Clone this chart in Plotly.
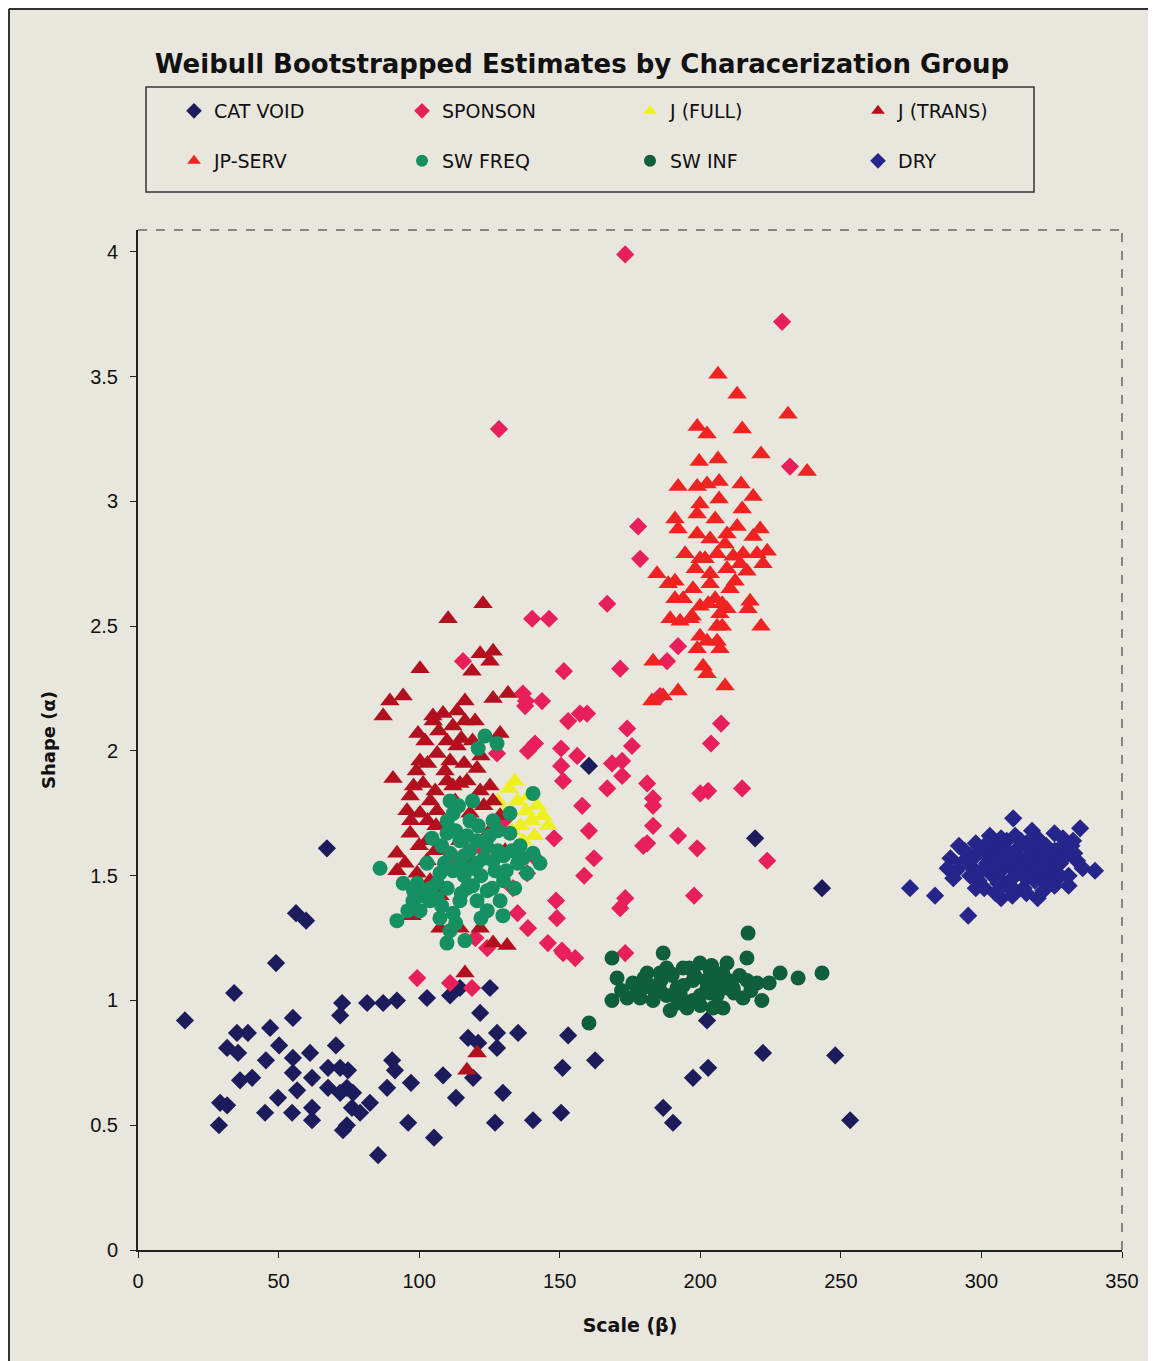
import plotly.graph_objects as go

# ---------------- data (Scale beta, Shape alpha) ----------------
cat_void_x = [16.7, 34.2, 49.1, 56.2, 59.8, 67.2, 35.2, 39.1, 47.0, 55.1, 31.7, 35.6, 50.2, 45.5,
              55.1, 61.2, 70.4, 36.3, 40.6, 55.1, 61.9, 67.6, 71.9, 74.7, 90.4, 91.4, 56.6, 49.8,
              67.6, 74.3, 76.5, 88.6, 97.1, 108.5, 29.2, 31.7, 45.2, 54.8, 61.9, 61.9, 71.9, 76.1,
              79.0, 82.5, 28.8, 74.3, 72.9, 96.1, 105.3, 85.4, 113.1, 129.8, 127.0, 140.5, 121.7,
              117.4, 121.0, 127.7, 127.7, 135.2, 119.2, 72.6, 71.9, 81.5, 87.2, 92.1, 102.8, 111.0,
              114.5, 125.2, 150.5, 151.0, 153.0, 162.6, 160.4, 186.8, 190.3, 197.4, 202.8, 202.4,
              219.5, 222.3, 243.3, 248.0, 253.3]
cat_void_y = [0.92, 1.03, 1.15, 1.35, 1.32, 1.61, 0.87, 0.87, 0.89, 0.93, 0.81, 0.79, 0.82, 0.76,
              0.77, 0.79, 0.82, 0.68, 0.69, 0.71, 0.69, 0.73, 0.73, 0.72, 0.76, 0.72, 0.64, 0.61,
              0.65, 0.65, 0.63, 0.65, 0.67, 0.70, 0.59, 0.58, 0.55, 0.55, 0.57, 0.52, 0.63, 0.57,
              0.55, 0.59, 0.50, 0.50, 0.48, 0.51, 0.45, 0.38, 0.61, 0.63, 0.51, 0.52, 0.95,
              0.85, 0.83, 0.87, 0.81, 0.87, 0.69, 0.99, 0.94, 0.99, 0.99, 1.00, 1.01, 1.02,
              1.05, 1.05, 0.55, 0.73, 0.86, 0.76, 1.94, 0.57, 0.51, 0.69, 0.73, 0.92,
              1.65, 0.79, 1.45, 0.78, 0.52]

sponson_x = [173.3, 229.1, 128.4, 231.9, 177.9, 178.6, 166.9, 140.2, 146.2, 171.5, 151.5, 115.6,
             138.0, 143.7, 136.9, 153.0, 159.7, 157.2, 174.0, 175.7, 141.2, 138.7, 150.5, 156.2,
             150.5, 151.2, 168.6, 172.2, 172.2, 166.9, 181.1, 183.2, 183.2, 200.0, 202.8, 214.9,
             207.4, 203.8, 158.0, 160.4, 148.0, 183.2, 181.1, 179.7, 192.1, 198.9, 223.8, 162.2,
             158.7, 173.3, 171.5, 197.8, 148.7, 149.0, 138.7, 145.8, 150.8, 173.3, 151.2, 155.5,
             99.3, 111.0, 118.8, 124.2, 127.7, 133.4, 138.4, 188.2, 192.1, 185.7, 137.7, 140.5,
             130.0, 123.0, 120.0, 112.0, 135.0]
sponson_y = [3.99, 3.72, 3.29, 3.14, 2.90, 2.77, 2.59, 2.53, 2.53, 2.33, 2.32, 2.36,
             2.20, 2.20, 2.23, 2.12, 2.15, 2.15, 2.09, 2.02, 2.03, 2.00, 2.01, 1.98,
             1.94, 1.88, 1.95, 1.96, 1.90, 1.85, 1.87, 1.81, 1.78, 1.83, 1.84, 1.85,
             2.11, 2.03, 1.78, 1.68, 1.65, 1.70, 1.63, 1.62, 1.66, 1.61, 1.56, 1.57,
             1.50, 1.41, 1.37, 1.42, 1.40, 1.33, 1.29, 1.23, 1.20, 1.19, 1.19, 1.17,
             1.09, 1.07, 1.05, 1.21, 1.99, 1.45, 1.51, 2.36, 2.42, 2.22, 2.18, 1.58,
             1.72, 1.60, 1.25, 1.58, 1.35]

j_full_x = [132, 135, 138, 140, 142, 136, 130, 133, 144, 139, 128, 137, 141, 134, 146]
j_full_y = [1.85, 1.80, 1.76, 1.72, 1.78, 1.70, 1.75, 1.68, 1.74, 1.82, 1.80, 1.64, 1.66, 1.88, 1.70]

j_trans_x = [122.7, 110.3, 100.3, 118.8, 121.7, 126.3, 125.2, 89.6, 94.3, 87.2, 116.3, 126.3,
             131.6, 104.9, 108.5, 113.5, 99.6, 102.1, 116.3, 119.9, 128.8, 109.9, 113.5, 100.3,
             106.4, 111.0, 120.6, 90.7, 101.4, 114.5, 117.0, 96.8, 125.2, 121.7, 126.3, 95.7,
             100.3, 106.4, 118.1, 96.8, 102.8, 92.1, 102.8, 92.1, 99.3, 97.5, 107.4, 114.5,
             121.7, 126.3, 131.3, 116.3, 120.6, 117.0, 109.2, 105.7, 112.8, 109.2, 114.5, 103.9,
             111.0, 107.4, 118.1, 125.2, 128.8, 130.6, 100.3, 105.7,
             103, 107, 112, 115, 104, 98, 110, 116, 119, 122, 97, 100, 95, 106, 103, 112, 123, 99, 105]
j_trans_y = [2.59, 2.53, 2.33, 2.32, 2.39, 2.40, 2.36, 2.20, 2.22, 2.14, 2.20, 2.21,
             2.23, 2.14, 2.15, 2.16, 2.07, 2.04, 2.12, 2.12, 2.07, 2.04, 2.02, 1.96,
             1.99, 1.96, 1.93, 1.89, 1.87, 1.87, 1.88, 1.82, 1.86, 1.84, 1.80, 1.76,
             1.75, 1.76, 1.75, 1.67, 1.64, 1.59, 1.56, 1.52, 1.51, 1.34, 1.29, 1.29,
             1.29, 1.23, 1.22, 1.11, 0.79, 0.72, 1.92, 1.84, 1.80, 1.70, 1.64, 1.48,
             1.52, 1.42, 1.56, 1.68, 1.74, 1.60, 1.42, 1.60,
             1.95, 2.08, 2.10, 2.05, 1.80, 1.86, 1.88, 1.95, 2.04, 1.98, 1.72, 1.62, 1.55, 1.70,
             1.72, 1.86, 1.78, 1.92, 2.12]

jp_serv_x = [206.3, 213.1, 231.2, 198.9, 202.4, 214.9, 221.6, 199.6, 206.3, 238.0, 192.1, 198.9,
             202.4, 206.7, 214.5, 218.8, 199.9, 198.9, 206.7, 214.9, 191.0, 192.1, 198.9, 221.3,
             223.8, 184.6, 191.0, 203.5, 209.5, 213.1, 218.8, 220.2, 194.6, 199.9, 206.0, 211.7,
             215.2, 222.3, 209.5, 216.6, 203.5, 197.4, 203.5, 212.4, 191.0, 193.9, 217.7, 217.0,
             207.8, 209.5, 199.9, 202.8, 189.3, 192.8, 221.6, 197.1, 206.0, 199.9, 202.4, 207.8,
             206.0, 198.9, 207.0, 183.2, 201.0, 202.4, 208.8, 192.1, 186.8, 188.6, 182.8,
             205.3, 208.8, 201.7, 205.3, 198.2, 196.4, 207.0, 210.6, 214.2]
jp_serv_y = [3.51, 3.43, 3.35, 3.30, 3.27, 3.29, 3.19, 3.16, 3.17, 3.12, 3.06, 3.06,
             3.07, 3.08, 3.07, 3.02, 2.99, 2.95, 3.01, 2.97, 2.93, 2.89, 2.87, 2.89,
             2.80, 2.71, 2.68, 2.85, 2.87, 2.90, 2.86, 2.79, 2.79, 2.77, 2.79, 2.78,
             2.79, 2.75, 2.73, 2.72, 2.71, 2.65, 2.67, 2.68, 2.61, 2.61, 2.60, 2.57,
             2.59, 2.57, 2.58, 2.59, 2.53, 2.52, 2.50, 2.54, 2.50, 2.46, 2.44, 2.50,
             2.44, 2.41, 2.41, 2.36, 2.34, 2.31, 2.26, 2.24, 2.22, 2.67, 2.20,
             2.93, 2.83, 2.77, 2.61, 2.73, 2.53, 2.55, 2.65, 2.75]

sw_freq_x = [140.5, 123.4, 127.7, 121.0, 86.1, 111.0, 112.1, 104.6, 94.3, 99.3, 106.4, 97.8,
             103.9, 92.1, 107.4, 112.1, 109.9, 116.3, 129.8, 124.2, 114.5, 120.6, 126.3, 135.9,
             132.3, 132.3, 126.3, 120.6, 117.0, 124.2, 111.0, 109.9, 143.0, 138.4, 140.5, 114.5,
             120.6, 128.8, 118.1, 114.5, 102.8, 107.4, 100.3, 106.4, 130.0, 135.0, 116.0, 122.0,
             128.0, 110.0, 125.0, 130.0, 118.0, 112.0, 101.0,
             108, 113, 117, 121, 124, 127, 131, 133, 119, 115, 108, 104, 98, 96, 111, 113, 122,
             126, 134, 137, 119, 123, 109, 116, 128, 110, 114, 119]
sw_freq_y = [1.83, 2.06, 2.03, 2.01, 1.53, 1.80, 1.75, 1.65, 1.47, 1.47, 1.47, 1.40,
             1.40, 1.32, 1.33, 1.35, 1.23, 1.24, 1.34, 1.36, 1.55, 1.55, 1.56, 1.62,
             1.67, 1.75, 1.72, 1.64, 1.45, 1.44, 1.59, 1.67, 1.55, 1.51, 1.59, 1.40,
             1.40, 1.40, 1.72, 1.64, 1.55, 1.51, 1.36, 1.41, 1.48, 1.55, 1.50, 1.50,
             1.60, 1.45, 1.66, 1.58, 1.60, 1.52, 1.42,
             1.62, 1.68, 1.66, 1.70, 1.62, 1.52, 1.52, 1.60, 1.46, 1.43, 1.38, 1.45, 1.44, 1.36,
             1.28, 1.31, 1.33, 1.45, 1.45, 1.57, 1.53, 1.57, 1.55, 1.58, 1.68, 1.72, 1.78, 1.80]

sw_inf_x = [217.0, 168.6, 186.8, 216.6, 209.5, 243.3, 234.8, 228.4, 170.4, 224.5, 168.6, 174.0,
            221.9, 160.4, 189.3, 195.3, 208.1, 178.6, 183.2, 193.9, 199.9, 203.5, 181.1, 185.7,
            216.6, 211.7, 197.4, 191.7, 179.7, 185.7, 203.5, 197.4, 215.2, 204.5, 177.5, 220.2,
            202.4, 192.8, 209.5, 189.3, 206.0,
            182, 186, 190, 194, 198, 202, 206, 210, 214, 188, 194, 200, 206, 212, 184, 196, 204,
            176, 172, 218, 192, 200, 180, 208, 188]
sw_inf_y = [1.27, 1.17, 1.19, 1.17, 1.15, 1.11, 1.09, 1.11, 1.09, 1.07, 1.00, 1.01,
            1.00, 0.91, 0.96, 0.97, 0.97, 1.01, 1.00, 1.13, 1.15, 1.12, 1.11, 1.11,
            1.08, 1.05, 1.08, 1.05, 1.05, 1.04, 1.03, 1.00, 1.01, 0.97, 1.04, 1.07,
            1.05, 1.03, 1.05, 1.11, 1.09,
            1.06, 1.08, 1.10, 1.06, 1.10, 1.08, 1.06, 1.08, 1.10, 1.02, 1.00, 1.02, 1.02, 1.03,
            1.03, 1.13, 1.14, 1.07, 1.04, 1.04, 0.99, 0.98, 1.09, 1.11, 1.13]

dry_x = [300, 302, 304, 305, 306, 307, 308, 309, 310, 310, 311, 312, 313, 313, 314, 315, 316,
         317, 318, 319, 320, 320, 321, 322, 323, 324, 325, 326, 327, 328, 329, 330, 331, 332,
         296, 297, 298, 299, 293, 294, 291, 289, 301, 303, 305, 312, 318, 322, 326, 334, 336,
         303, 315, 308, 319, 311, 296, 324, 311.3, 335.1, 332.6, 340.4, 274.6, 283.5, 295.3,
         292, 295, 298, 300, 302, 304, 306, 307, 309, 310, 312, 314, 315, 316, 318, 320, 321,
         323, 324, 326, 328, 329, 330, 331, 333, 298, 305, 313, 317, 322, 327, 288, 290, 307,
         316, 320]
dry_y = [1.60, 1.55, 1.50, 1.62, 1.57, 1.52, 1.47, 1.64, 1.59, 1.54, 1.49, 1.66, 1.61, 1.56,
         1.51, 1.45, 1.63, 1.58, 1.53, 1.48, 1.65, 1.60, 1.55, 1.50, 1.62, 1.57, 1.52, 1.46,
         1.60, 1.55, 1.65, 1.58, 1.50, 1.62, 1.58, 1.53, 1.63, 1.48, 1.55, 1.60, 1.52, 1.57,
         1.45, 1.66, 1.43, 1.44, 1.68, 1.44, 1.67, 1.56, 1.53, 1.58, 1.56, 1.59, 1.61, 1.42,
         1.50, 1.48, 1.73, 1.69, 1.64, 1.52, 1.45, 1.42, 1.34,
         1.62, 1.55, 1.45, 1.52, 1.63, 1.57, 1.47, 1.65, 1.55, 1.45, 1.58, 1.64, 1.53, 1.49,
         1.57, 1.52, 1.63, 1.47, 1.55, 1.60, 1.50, 1.57, 1.62, 1.46, 1.59, 1.58, 1.54, 1.52,
         1.61, 1.58, 1.54, 1.53, 1.49, 1.41, 1.43, 1.41]

x_ticks = [0, 50, 100, 150, 200, 250, 300, 350]
y_ticks = [0, 0.5, 1, 1.5, 2, 2.5, 3, 3.5, 4]

# ---------------- figure ----------------
BG = "#e9e6dd"
FONT = "Liberation Sans, Arial, sans-serif"
WIDE = "DejaVu Sans, Liberation Sans, sans-serif"

series = [
    ("CAT VOID", cat_void_x, cat_void_y, "diamond", "#1c1c5c", 14, "legend"),
    ("SPONSON", sponson_x, sponson_y, "diamond", "#e8205a", 14, "legend"),
    ("J (FULL)", j_full_x, j_full_y, "triangle-up", "#eef020", 17, "legend"),
    ("J (TRANS)", j_trans_x, j_trans_y, "triangle-up", "#b3101f", 17, "legend"),
    ("JP-SERV", jp_serv_x, jp_serv_y, "triangle-up", "#f02222", 17, "legend2"),
    ("SW FREQ", sw_freq_x, sw_freq_y, "circle", "#149062", 15, "legend2"),
    ("SW INF", sw_inf_x, sw_inf_y, "circle", "#0f5e3c", 15, "legend2"),
    ("DRY", dry_x, dry_y, "diamond", "#25258c", 14, "legend2"),
]

fig = go.Figure()
for name, xs, ys, sym, col, sz, lg in series:
    fig.add_trace(go.Scatter(
        x=xs, y=ys, mode="markers", name=name, legend=lg,
        marker=dict(symbol=sym, color=col, size=sz, line=dict(width=0)),
    ))

# page body has an 8px margin: figure spans screen 8..1156 / 8..1361
OFF = 8
W, H = 1156 - OFF, 1361 - OFF
L, R, T, B = 138 - OFF, 1122 - OFF, 230 - OFF, 1250 - OFF
pw, ph = R - L, B - T


def px(sx):
    return (sx - OFF - L) / pw


def py(sy):
    return (B - (sy - OFF)) / ph


legend_common = dict(
    orientation="h", xanchor="left", yanchor="middle",
    entrywidth=183, entrywidthmode="pixels",
    font=dict(family=WIDE, size=19, color="#111111"),
    bgcolor="rgba(0,0,0,0)", borderwidth=0, itemsizing="constant",
    traceorder="normal",
)

fig.update_layout(
    width=W, height=H,
    paper_bgcolor=BG, plot_bgcolor=BG,
    margin=dict(l=L, r=W - R, t=T, b=H - B),
    font=dict(family=FONT, color="#111111"),
    title=dict(
        text="<b>Weibull Bootstrapped Estimates by Characerization Group</b>",
        x=(582 - OFF) / W, xanchor="center", y=1 - (64 - OFF) / H, yanchor="middle",
        xref="container", yref="container",
        font=dict(family=WIDE, size=26, color="#111111"),
    ),
    legend=dict(x=px(174), y=py(111), **legend_common),
    legend2=dict(x=px(174), y=py(161), **legend_common),
    xaxis=dict(
        range=[0, 350], tickvals=x_ticks, ticks="outside", ticklen=6,
        tickcolor="#222", showline=True, linecolor="#222", linewidth=2,
        showgrid=False, zeroline=False, mirror=False,
        tickfont=dict(family=FONT, size=20, color="#111"),
        ticklabelstandoff=6,
        title=dict(text="<b>Scale (β)</b>", font=dict(family=WIDE, size=19), standoff=28),
    ),
    yaxis=dict(
        range=[0, 4.088], tickvals=y_ticks, ticks="outside", ticklen=6,
        tickcolor="#222", showline=True, linecolor="#222", linewidth=2,
        showgrid=False, zeroline=False, mirror=False,
        tickfont=dict(family=FONT, size=20, color="#111"),
        ticklabelstandoff=8,
        title=dict(text="<b>Shape (α)</b>", font=dict(family=WIDE, size=18), standoff=30),
    ),
)

shapes = [
    # dashed top and right frame of plot area
    dict(type="line", xref="paper", yref="paper", x0=0, x1=1, y0=1, y1=1,
         line=dict(color="#666", width=1.5, dash="dash")),
    dict(type="line", xref="paper", yref="paper", x0=1, x1=1, y0=0, y1=1,
         line=dict(color="#666", width=1.5, dash="dash")),
    # legend box
    dict(type="rect", xref="paper", yref="paper", x0=px(146), x1=px(1034), y0=py(87), y1=py(192),
         line=dict(color="#333", width=1.5)),
    # outer frame (left and top edges)
    dict(type="line", xref="paper", yref="paper", x0=px(9), x1=px(9), y0=py(9), y1=py(1361),
         line=dict(color="#333", width=2)),
    dict(type="line", xref="paper", yref="paper", x0=px(9), x1=px(1156), y0=py(9), y1=py(9),
         line=dict(color="#333", width=2)),
]
fig.update_layout(shapes=shapes)

fig.write_html("out.html")
